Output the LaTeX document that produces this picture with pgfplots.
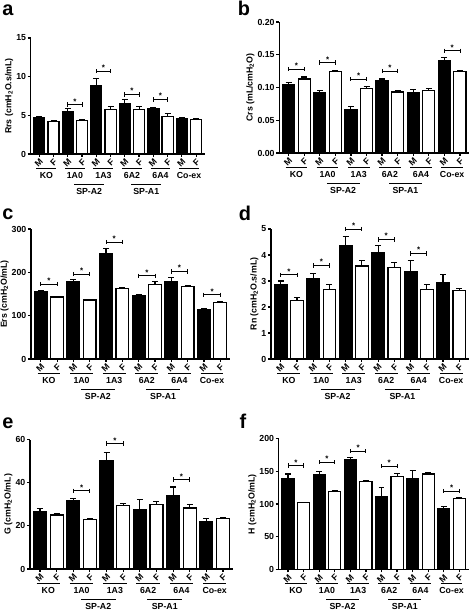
\documentclass[border=0pt]{standalone}
\usepackage{fontspec}
\setmainfont{Liberation Sans}
\usepackage{pgfplots}
\pgfplotsset{compat=1.18}
\newcommand{\tf}{\fontsize{8.8}{9}\selectfont\bfseries}
\pgfplotsset{
 prism/.style={
  scale only axis, anchor=south west,
  axis x line*=bottom, axis y line*=left,
  axis line style={-, line width=1.3pt},
  xmin=0.4, xmax=12.6, ymin=0,
  xtick={1,...,12}, xticklabels={M,F,M,F,M,F,M,F,M,F,M,F},
  xticklabel style={rotate=45, anchor=north east, inner sep=0.8pt, font=\tf},
  yticklabel style={font=\tf, inner sep=1.5pt},
  ylabel style={font=\tf, yshift=-2pt},
  tick align=outside, major tick length=3pt,
  every tick/.style={black, line width=1.2pt},
  /pgf/number format/assume math mode=true,
  clip=false,
 },
 mbar/.style={ybar, bar shift=0pt, bar width=0.78, fill=black, draw=black, line width=1.2pt,
  error bars/y dir=plus, error bars/y explicit,
  error bars/error bar style={line width=1.1pt, black},
  error bars/error mark options={line width=1.1pt, mark size=3pt, black, rotate=90}},
 fbar/.style={mbar, fill=white},
}
\newcommand{\sig}[3]{%
 \addplot[black, line width=0.9pt, mark=|, mark size=2.2pt, mark options={solid, line width=0.9pt}] coordinates {(#1,#3) (#2,#3)};
 \addplot[draw=none, mark=none, nodes near coords={*}, every node near coord/.append style={font=\fontsize{8}{8}\selectfont\bfseries, anchor=south, inner sep=0.3pt}] coordinates {(#1.5,#3)};
}
\newcommand{\grp}[4]{%
 \draw[line width=0.9pt] ([yshift=-14.5bp]axis cs:#1,0) -- ([yshift=-14.5bp]axis cs:#2,0);
 \node[font=\tf] at ([yshift=-21.5bp]axis cs:#3,0) {#4};
}
\newcommand{\sgrp}[4]{%
 \draw[line width=0.9pt] ([yshift=-30bp]axis cs:#1,0) -- ([yshift=-30bp]axis cs:#2,0);
 \node[font=\tf] at ([yshift=-37.5bp]axis cs:#3,0) {#4};
}
\newcommand{\allgroups}{%
 \grp{0.8}{2.2}{1.5}{KO}
 \grp{2.8}{4.2}{3.5}{1A0}
 \grp{4.8}{6.2}{5.5}{1A3}
 \grp{6.8}{8.2}{7.5}{6A2}
 \grp{8.8}{10.2}{9.5}{6A4}
 \grp{10.8}{12.2}{11.5}{Co-ex}
 \sgrp{3.45}{5.55}{4.5}{SP-A2}
 \sgrp{7.45}{9.55}{8.5}{SP-A1}
}
\begin{document}
\begin{tikzpicture}
\useasboundingbox (0bp,0bp) rectangle (472bp,614bp);
\node[font=\fontsize{20}{20}\selectfont\bfseries] at (8bp,604bp) {a};
\node[font=\fontsize{20}{20}\selectfont\bfseries] at (244bp,606bp) {b};
\node[font=\fontsize{20}{20}\selectfont\bfseries] at (8bp,400bp) {c};
\node[font=\fontsize{20}{20}\selectfont\bfseries] at (245bp,401bp) {d};
\node[font=\fontsize{20}{20}\selectfont\bfseries] at (8bp,191bp) {e};
\node[font=\fontsize{20}{20}\selectfont\bfseries] at (243bp,193bp) {f};

% ---- a
\begin{axis}[prism, at={(30.7bp,460bp)}, width=174bp, height=116bp, ymax=15, ytick={0,5,10,15},
  ylabel={Rrs (cmH\textsubscript{2}O.s/mL)}]
\addplot[mbar] table[x=x,y=y,y error=e] {
x y e
1 4.7 0.1
3 5.5 0.35
5 8.8 1.0
7 6.55 0.55
9 5.85 0.15
11 4.55 0.12
};
\addplot[fbar] table[x=x,y=y,y error=e] {
x y e
2 4.2 0.07
4 4.38 0.08
6 5.8 0.3
8 5.8 0.3
10 4.9 0.3
12 4.45 0.1
};
\sig{3}{4}{6.4}
\sig{5}{6}{10.7}
\sig{7}{8}{7.7}
\sig{9}{10}{7.05}
\allgroups
\end{axis}

% ---- b
\begin{axis}[prism, at={(279.3bp,461bp)}, width=190bp, height=131bp, ymax=0.2, ytick={0,0.05,0.1,0.15,0.2},
  yticklabel style={/pgf/number format/.cd, fixed, fixed zerofill, precision=2},
  ylabel={Crs (mL/cmH\textsubscript{2}O)}]
\addplot[mbar] table[x=x,y=y,y error=e] {
x y e
1 0.105 0.003
3 0.092 0.003
5 0.066 0.005
7 0.110 0.003
9 0.092 0.005
11 0.141 0.005
};
\addplot[fbar] table[x=x,y=y,y error=e] {
x y e
2 0.113 0.003
4 0.124 0.002
6 0.099 0.002
8 0.093 0.003
10 0.096 0.002
12 0.124 0.002
};
\sig{1}{2}{0.128}
\sig{3}{4}{0.138}
\sig{5}{6}{0.113}
\sig{7}{8}{0.125}
\sig{11}{12}{0.156}
\allgroups
\end{axis}

% ---- c
\begin{axis}[prism, at={(31bp,255bp)}, width=199bp, height=130bp, ymax=300, ytick={0,100,200,300},
  ylabel={Ers (cmH\textsubscript{2}O/mL)}]
\addplot[mbar] table[x=x,y=y,y error=e] {
x y e
1 155 3
3 178 6
5 243 13
7 146 3
9 179 10
11 115 2
};
\addplot[fbar] table[x=x,y=y,y error=e] {
x y e
2 143 2
4 136 2
6 162 3
8 172 7
10 167 3
12 130 2
};
\sig{1}{2}{173}
\sig{3}{4}{196}
\sig{5}{6}{270}
\sig{7}{8}{192}
\sig{9}{10}{202}
\sig{11}{12}{148}
\allgroups
\end{axis}

% ---- d
\begin{axis}[prism, at={(271bp,255bp)}, width=198bp, height=130bp, ymax=5, ytick={0,1,2,3,4,5},
  ylabel={Rn (cmH\textsubscript{2}O.s/mL)}]
\addplot[mbar] table[x=x,y=y,y error=e] {
x y e
1 2.85 0.15
3 3.1 0.2
5 4.35 0.37
7 4.08 0.27
9 3.38 0.42
11 2.92 0.33
};
\addplot[fbar] table[x=x,y=y,y error=e] {
x y e
2 2.25 0.13
4 2.67 0.18
6 3.58 0.2
8 3.52 0.2
10 2.68 0.17
12 2.62 0.1
};
\sig{1}{2}{3.24}
\sig{3}{4}{3.6}
\sig{5}{6}{5.0}
\sig{7}{8}{4.6}
\sig{9}{10}{4.06}
\allgroups
\end{axis}

% ---- e
\begin{axis}[prism, at={(30bp,45bp)}, width=203bp, height=129.5bp, ymax=60, ytick={0,20,40,60},
  ylabel={G (cmH\textsubscript{2}O/mL)}]
\addplot[mbar] table[x=x,y=y,y error=e] {
x y e
1 26.5 1.5
3 31.5 1.0
5 50.3 3.7
7 27.5 4.5
9 34 4
11 21.8 1.6
};
\addplot[fbar] table[x=x,y=y,y error=e] {
x y e
2 25 0.5
4 22.8 0.4
6 29.5 0.7
8 30 1.3
10 28.3 1.5
12 23.3 0.5
};
\sig{3}{4}{36.2}
\sig{5}{6}{58.1}
\sig{9}{10}{41.4}
\allgroups
\end{axis}

% ---- f
\begin{axis}[prism, at={(278.7bp,44.7bp)}, width=190bp, height=130.5bp, ymax=200, ytick={0,50,100,150,200},
  ylabel={H (cmH\textsubscript{2}O/mL)}]
\addplot[mbar] table[x=x,y=y,y error=e] {
x y e
1 139 7
3 145 5
5 168 3
7 111 14
9 139 12
11 93 3
};
\addplot[fbar] table[x=x,y=y,y error=e] {
x y e
2 102 1
4 119 1
6 135 1
8 142 5
10 146 2
12 108 2
};
\sig{1}{2}{159}
\sig{3}{4}{164}
\sig{5}{6}{181}
\sig{7}{8}{158}
\sig{11}{12}{120}
\allgroups
\end{axis}
\end{tikzpicture}
\end{document}
